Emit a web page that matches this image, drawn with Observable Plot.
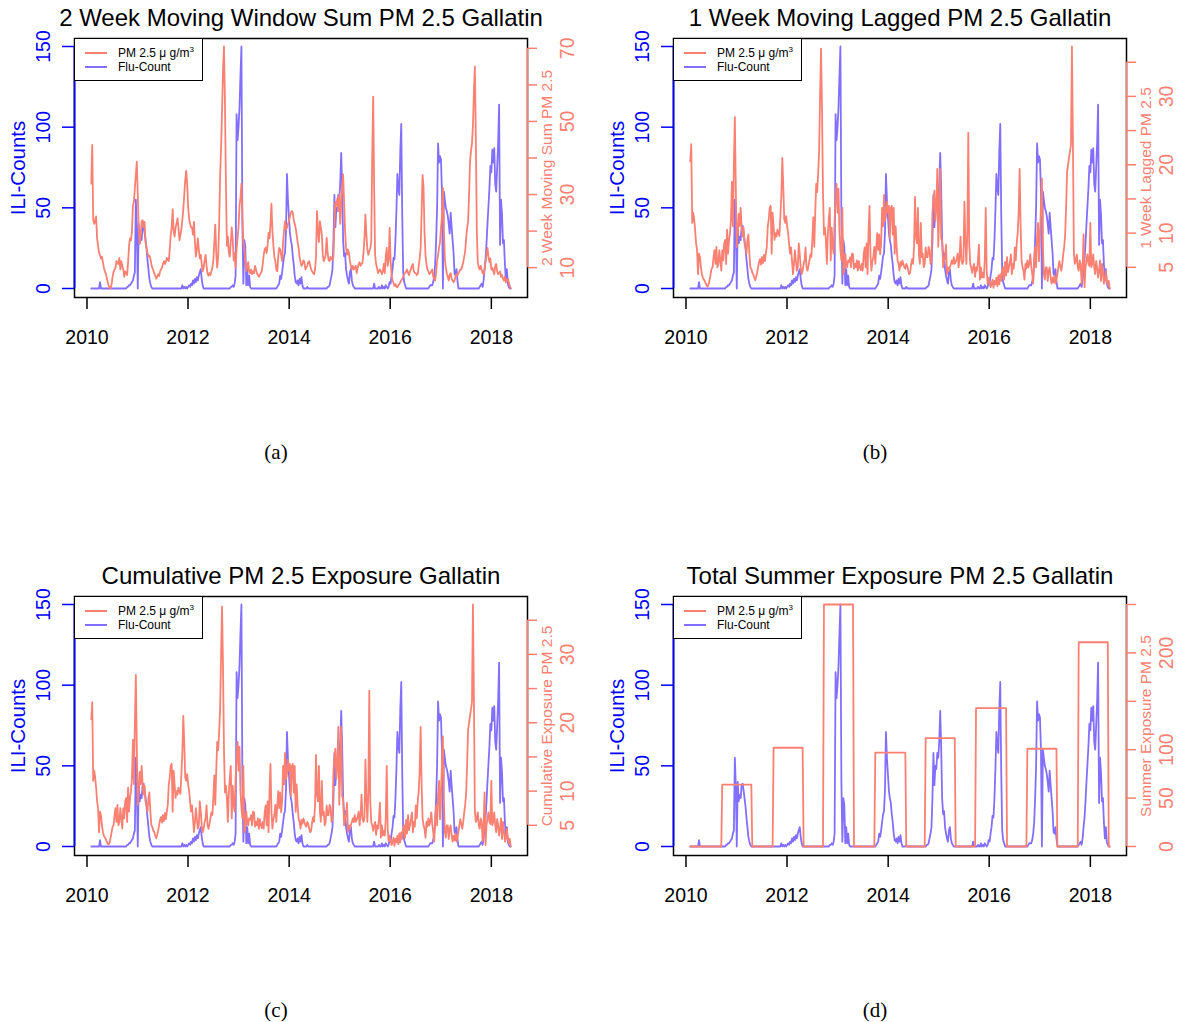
<!DOCTYPE html>
<html>
<head>
<meta charset="utf-8">
<script src="https://cdn.jsdelivr.net/npm/d3@7"></script>
<script src="https://cdn.jsdelivr.net/npm/@observablehq/plot@0.6"></script>
<style>
  html, body { margin: 0; padding: 0; background: #fff; }
  body { width: 1179px; height: 1022px; overflow: hidden; font-family: "Liberation Sans", Arial, sans-serif; }
  #chart { position: relative; width: 1179px; height: 1022px; }
  .panel { position: absolute; width: 580px; height: 470px; }
  .panel svg { position: absolute; left: 0; top: 0; background: transparent; }
  .legend { position: absolute; left: 74px; top: 38px; width: 129px; height: 43px; box-sizing: border-box;
            border: 1.5px solid #000; background: #fff; font-size: 12px; color: #000; }
  .legend .key { position: absolute; left: 10px; width: 22px; height: 0; border-top: 2px solid; }
  .legend .lab { position: absolute; left: 43px; line-height: 14px; white-space: nowrap; }
  .legend sup { font-size: 8px; vertical-align: 5px; line-height: 0; }
</style>
</head>
<body>
<div id="chart"></div>
<script>
// Weekly ILI counts, Gallatin, starting the week of 2010-02-01 (one row of 52 weeks per year, Feb to Jan)
const fluCount = [
  // 2010
  0,0,0,0,0,0,0,0,0,4, 0,0,0,0,0,0,0,0,0,0, 0,0,0,0,0,0,0,0,0,0, 0,0,0,0,0,0,0,1,1,2, 2,3,4,5,8,10,55,38,0,40, 28,32,
  // 2011
  30,38,39,35,30,25,18,12,6,3, 1,0,0,0,0,0,0,0,0,0, 0,0,0,0,0,0,0,0,0,0, 0,0,0,0,0,0,0,0,0,0, 0,0,2,0,1,0,1,0,1,2, 1,3,
  // 2012
  2,5,3,6,4,7,5,8,10,12, 6,2,0,0,0,0,0,0,0,0, 0,0,0,0,0,0,0,0,0,0, 0,0,0,0,0,0,0,0,0,0, 1,1,2,1,3,8,108,92,100,112, 132,150,
  // 2013
  40,3,30,26,2,12,2,8,1,0, 0,0,0,0,0,0,0,0,0,0, 0,0,0,0,0,0,0,0,0,0, 0,0,0,0,0,0,1,2,3,8, 6,10,15,20,22,35,71,55,45,35, 30,27,
  // 2014
  20,15,8,4,3,5,2,6,3,7, 2,0,0,0,0,1,0,0,0,0, 0,0,0,0,0,0,0,0,0,0, 0,0,0,0,0,0,1,1,2,5, 8,12,30,58,38,50,48,58,55,65, 84,62,
  // 2015
  30,20,22,12,8,5,3,10,12,5, 2,1,0,0,0,0,0,0,0,0, 0,0,0,0,0,0,0,0,0,0, 0,0,3,0,0,0,0,1,0,0, 2,0,1,0,2,1,0,1,4,3, 8,12,
  // 2016
  19,18,30,48,71,62,58,85,102,46, 10,4,2,0,0,0,0,0,0,0, 0,0,0,0,0,0,0,0,0,0, 0,0,0,0,0,0,0,1,2,2, 2,4,8,15,30,50,90,78,82,80, 60,0,
  // 2017
  60,55,50,48,45,40,34,47,38,30, 22,9,8,12,5,0,0,0,0,0, 0,0,0,0,0,0,0,0,0,0, 0,0,0,0,0,0,0,1,2,3, 1,5,12,18,28,40,51,62,76,72, 86,78,
  // 2018
  87,65,60,75,90,114,27,55,46,28, 30,15,5,12,3,1,0,0
];

// 2 week moving window sum of PM 2.5
const pmSum = [
  // 2010
  33,43.6,23,22,23,24,18,16,14,13.5, 12.5,13,11.5,10,9,8.4,7.2,6,5,4.5, 4.3,5.5,7.5,8.8,9.5,10,11.8,11.5,11,12.7,
  9.5,11.8,10.5,9.5,7.5,9,8.5,8,11.5,16, 18,17.5,20,27,28,31.8,35.4,39,30,20, 16.5,19,
  // 2011
  22.7,23,21,22.5,17,15.5,14,13,13.3,12.5, 11,10,9.3,8.5,7.8,7,7.5,8.2,7.7,9, 9.5,10,11,11.8,11,11.5,12.7,12,11.8,15,
  19,21,26,20,18.5,20.9,22,23.5,21,17.5, 19,20.5,23,26,30,34,36.5,33,26.5,23.5, 22,21,
  // 2012
  21,19,22.5,17,13,15,18,15,12.5,13.5, 11,9,10,12,13.5,10.5,8.5,7.8,8.5,8, 9,10,12,17,21.8,14,10,13,22,35,
  43,53,64,70.5,55,33,16,18.5,14,13, 17,21,18,12,14,10,15,18,21,27, 29,33,
  // 2013
  24,17,15,12,9,10.5,11.5,9,8.5,9.5, 8.2,9,8.5,10.5,9.5,8.5,8,7.5,8,8.6, 9,11,13.5,15,15.5,14,16,19.5,18,22,
  27.5,20,16,13,11.8,9.5,9,13,15.4,15, 13.5,11.8,17,20,22.7,20.5,20.9,22,22.7,24, 25,25.5,
  // 2014
  25,23,22,20.9,19,17,15.4,13,11.5,10.5, 11,12,11.5,9.5,10,10.5,11.5,11.8,10.5,9.5, 9,8.5,8.2,9.5,13,25.5,20,17,22.7,21,
  19,13.5,11.8,12.5,13.5,18.2,14,12,11.8,13, 12.5,12,13,22,28,27,29,25.5,30,22, 28,32,
  // 2015
  35.5,28,20,15.4,13.5,15,14,11.8,10.5,9.5, 10.5,9.5,10,10.5,8.5,10,11,11.5,10.5,11, 11.3,14,18,24.5,19,15,13.5,14.5,15.4,17,
  40,56.8,32,13.5,11,10,8.5,9,9.5,9, 8.2,9,11,8.5,13,15.5,10.5,12,20.9,12, 8,6.5,
  // 2016
  5.8,5,5.5,4.8,4.6,5.2,5.5,6,6.5,7, 7.5,8.2,8.5,9,9.5,8.5,8,9,9.5,10.5, 11,9,8.5,8.5,8,8.2,10.5,12.5,15.4,25,
  35.4,32,20,13.5,11,9.5,9,8.2,8.5,9, 9.5,7.5,7,6.5,8.5,12,13.5,15.4,17,20.9, 24,31.8,
  // 2017
  20,12.5,10,8.5,7.5,6.5,8,8.5,7,6.5, 6,6.5,7.5,8.2,7.8,8.5,9,9.5,9.5,10.5, 11.5,13,14.5,18,20.9,22.5,30,39,42,44,
  49,58,65,45,20,11.5,10,9.5,10.5,9.5, 8.5,8.2,9.5,11.5,13.5,15.4,13,11.5,12.5,9.5, 10,9,
  // 2018
  8.2,10.5,11,9,8.2,8.5,9,7.5,8,7, 6.5,7.5,6,6.5,7,6,5,4.3
];

// 1 week lagged PM 2.5 (also the cumulative exposure series)
const pmLagged = [
  // 2010
  20.5,23,11.5,13,12,10.5,8.5,7.5,4,7, 6.5,5,4,3.5,3.2,3,2.6,2.3,2.2,2.5, 3.2,4,4.8,5,6.5,7.5,5.5,8,5,5.5,
  7.5,6,4.5,7.5,6,8.5,9,5.5,10.5,7, 9,10,12,17.5,11,20,27,16.5,8,10, 12.8,11,
  // 2011
  13.7,11,9.5,10.8,8.5,7.9,7,9,9.8,7, 5,4.8,4.2,4,3.5,3.1,3.6,4.2,5,5.8, 6.2,5.4,6.5,5.6,6.8,5.9,7,8,11,12,
  13.7,14,7,13,11,9,10,9.5,10.5,10, 9.6,12.5,15.5,21,17,12,11.5,12.5,11,10, 8.5,7,
  // 2012
  7.9,6,4,5.5,7.5,6,4.5,5,8.5,7, 5,4,4.5,5.5,6,7.9,5,4.5,5.2,6, 6.9,6.5,9,12.3,8,13,17.2,16,18.7,22,
  30,37,28,16,9.8,10.8,9,5.5,9.8,12, 13.7,6,10.8,8,7,12,15,17.2,13,16.5, 10,7.5,
  // 2013
  6,13.7,4,4.5,7,5.5,5,6,5.8,6.5, 5,7,6.9,4.8,5.5,5,6,4.5,5.9,5, 4.6,5.5,4.5,6.9,7.9,5,8.5,4,10,14,
  6.9,4.5,5.9,6.5,8,5.5,7.9,10,7.5,9.8, 6.9,8.5,13.7,11,15.6,11.8,12.5,14.6,13,14, 9.3,13.7,
  // 2014
  14,9.8,13.7,7,11,8,6,5.5,4.5,5.8, 5.2,6,5.5,5,4.8,5.5,5.2,4.5,4,4.2, 5.5,6.2,5.5,8,15.3,9.5,8.5,13.7,7,5.5,
  11.5,6.5,7,5,5.5,7.9,6.5,6.5,8,7.5, 5.5,6,12.9,15,16.2,11.8,13.7,19.4,8,12.9, 19.4,9.3,
  // 2015
  8.8,5,6,6.5,8.3,4,5,4.5,5,5.5, 6,5.5,6.5,5.5,5.8,6.2,7,5,6.5,9.5, 6,5.5,6,14.6,9,5.5,9.8,24.7,8.5,5.5,
  5,4.2,5,5.5,3.6,5,4.5,6,8.3,3.2, 5,3.5,4.2,3.5,6,13.7,4.5,2.6,3.5,2.8, 2.1,2.6,
  // 2016
  3.2,2,3,2.5,3.5,2.2,3.8,2.5,4,3, 4.6,5,3.2,5.8,3.8,6.5,4.3,5,5.8,6.9, 4,5.5,4.8,7.9,6,8.5,10,13,19.4,11,
  6,5,4.5,3.2,5.5,4.8,6,5,5.5,6.9, 5.2,4,2.6,6,7.9,5,9.5,11.5,5.9,9.8, 14,18,
  // 2017
  8.5,4,3.2,5,5,3,4.5,5,3.5,2.6, 3.5,2.8,3.8,2.6,3.2,4,5,5.9,5.2,4.5, 5.5,6.9,8,9.8,14,19,20,21,22,23,
  37.3,23.5,7,5.5,6,6.9,5,4.5,6,5.5, 2.6,5,9.8,2.1,5,6,6.9,5.5,5.2,11.5, 5,5.5,
  // 2018
  6.9,5,4,5.9,5,3.5,4.5,6,3,5.5, 4.2,2.6,3.2,4.5,3,2.4,3,1.9
];

// Total summer PM 2.5 exposure, held over each flu season
const summerStart = ["2010-09-20","2011-09-20","2012-09-24","2013-09-26","2014-09-27","2015-09-27","2016-09-27","2017-10-04"];
const summerEnd   = ["2011-04-23","2012-04-23","2013-04-27","2014-05-10","2015-04-27","2016-05-04","2017-05-01","2018-05-08"];
const summerTotal = [64, 102, 250, 97, 112, 143, 101, 211];

// Axis ticks and labels
const xTickYears = [2010, 2012, 2014, 2016, 2018];
const fluTicks = [0, 50, 100, 150];
const sumTicks = [10, 20, 30, 40, 50, 60, 70];
const sumLabels = [10, 30, 50, 70];
const laggedTicks = [5, 10, 15, 20, 25, 30, 35];
const laggedLabels = [5, 10, 20, 30];
const summerTicks = [0, 50, 100, 150, 200, 250];
const summerLabels = [0, 50, 100, 200];

const seriesNames = ["PM 2.5 \u03bc g/m<sup>3</sup>", "Flu-Count"];

const SALMON = "#FA8072";
const FLU_BLUE = "#836FFF";
const AXIS_BLUE = "#0000FF";
const FONT = "Liberation Sans, Arial, Helvetica, sans-serif";

const firstWeek = new Date(Date.UTC(2010, 1, 1));
const weekDates = fluCount.map((_, i) => d3.utcDay.offset(firstWeek, 7 * i));
const fluRows = weekDates.map((date, i) => ({date, value: fluCount[i]}));
const sumRows = weekDates.map((date, i) => ({date, value: pmSum[i]}));
const laggedRows = weekDates.map((date, i) => ({date, value: pmLagged[i]}));
const seasonStart = summerStart.map(s => new Date(s));
const seasonEnd = summerEnd.map(s => new Date(s));
const summerRows = weekDates.map(date => {
  const k = seasonStart.findIndex((s, i) => date >= s && date <= seasonEnd[i]);
  return {date, value: k < 0 ? 0 : summerTotal[k]};
});
const xTicks = xTickYears.map(y => new Date(Date.UTC(y, 0, 1)));

// x domain padded by 4% on each side of the data range
const span = weekDates[weekDates.length - 1] - weekDates[0];
const xDomain = [new Date(+weekDates[0] - 0.04 * span), new Date(+weekDates[weekDates.length - 1] + 0.04 * span)];

const W = 580, H = 470;
const frame = {left: 74, right: 527, top: 38, bottom: 297};
const box = {
  width: W, height: H,
  marginLeft: frame.left, marginRight: W - frame.right,
  marginTop: frame.top, marginBottom: H - frame.bottom
};
const yInset = {insetTop: 8, insetBottom: 9};
const vertical = {rotate: -90, textAnchor: "middle", lineAnchor: "middle"};

const panels = [
  {left: 0, top: 0, title: "2 Week Moving Window Sum PM 2.5 Gallatin", caption: "(a)",
   rows: sumRows, ticks: sumTicks, labels: sumLabels, axisTitle: "2 Week Moving Sum PM 2.5"},
  {left: 599, top: 0, title: "1 Week Moving Lagged PM 2.5 Gallatin", caption: "(b)",
   rows: laggedRows, ticks: laggedTicks, labels: laggedLabels, axisTitle: "1 Week Lagged PM 2.5"},
  {left: 0, top: 558, title: "Cumulative PM 2.5 Exposure Gallatin", caption: "(c)",
   rows: laggedRows, ticks: laggedTicks, labels: laggedLabels, axisTitle: "Cumulative Exposure PM 2.5"},
  {left: 599, top: 558, title: "Total Summer Exposure PM 2.5 Gallatin", caption: "(d)",
   rows: summerRows, ticks: summerTicks, labels: summerLabels, axisTitle: "Summer Exposure PM 2.5"}
];

const chart = document.getElementById("chart");

for (const p of panels) {
  const div = document.createElement("div");
  div.className = "panel";
  div.style.left = p.left + "px";
  div.style.top = p.top + "px";
  chart.appendChild(div);

  // Left scale: flu counts, box, x axis, titles
  const fluPlot = Plot.plot({
    ...box,
    style: {fontFamily: FONT, background: "transparent"},
    x: {type: "utc", domain: xDomain, axis: null},
    y: {domain: [0, 150], ...yInset, axis: null},
    marks: [
      Plot.line(fluRows, {x: "date", y: "value", stroke: FLU_BLUE, strokeWidth: 1.8}),
      Plot.frame({stroke: "#000", strokeWidth: 1.5}),
      Plot.ruleX([xDomain[0]], {y1: fluTicks[0], y2: fluTicks[fluTicks.length - 1], stroke: AXIS_BLUE, strokeWidth: 1.8}),
      Plot.axisY({anchor: "left", ticks: fluTicks, tickSize: 12, tickFormat: () => "", color: AXIS_BLUE, strokeWidth: 1.5, label: null}),
      Plot.text(fluTicks, {y: d => d, text: d => String(d), frameAnchor: "left", dx: -31, ...vertical,
                           fill: AXIS_BLUE, fontSize: 19.5}),
      Plot.text(["ILI-Counts"], {text: d => d, frameAnchor: "left", dx: -56, ...vertical, fill: AXIS_BLUE, fontSize: 20.5}),
      Plot.axisX({anchor: "bottom", ticks: xTicks, tickSize: 12, tickFormat: () => "", color: "#000", strokeWidth: 1.5, label: null}),
      Plot.text(xTicks, {x: d => d, text: d => String(d.getUTCFullYear()), frameAnchor: "bottom", dy: 40,
                         lineAnchor: "middle", fill: "#000", fontSize: 19.5}),
      Plot.text([p.title], {text: d => d, frameAnchor: "top", dy: -20, lineAnchor: "middle", fill: "#000", fontSize: 24}),
      Plot.text([p.caption], {text: d => d, frameAnchor: "bottom", dx: -25, dy: 155, lineAnchor: "middle", fill: "#000",
                              fontSize: 21, fontFamily: "Liberation Serif, DejaVu Serif, serif"})
    ]
  });
  div.appendChild(fluPlot);

  // Right scale: PM 2.5 series spanning its own range
  const pmPlot = Plot.plot({
    ...box,
    style: {fontFamily: FONT, background: "transparent"},
    x: {type: "utc", domain: xDomain, axis: null},
    y: {domain: d3.extent(p.rows, d => d.value), ...yInset, axis: null},
    marks: [
      Plot.line(p.rows, {x: "date", y: "value", stroke: SALMON, strokeWidth: 1.8}),
      Plot.ruleX([xDomain[1]], {y1: p.ticks[0], y2: p.ticks[p.ticks.length - 1], stroke: SALMON, strokeWidth: 1.5}),
      Plot.axisY({anchor: "right", ticks: p.ticks, tickSize: 9, tickFormat: () => "", color: SALMON, strokeWidth: 1.5, label: null}),
      Plot.text(p.labels, {y: d => d, text: d => String(d), frameAnchor: "right", dx: 40, ...vertical,
                           fill: SALMON, fontSize: 19.5}),
      Plot.text([p.axisTitle], {text: d => d, frameAnchor: "right", dx: 20, ...vertical, fill: SALMON, fontSize: 15.5})
    ]
  });
  div.appendChild(pmPlot);

  // Legend box in the top-left corner of the frame
  const legend = document.createElement("div");
  legend.className = "legend";
  [SALMON, FLU_BLUE].forEach((color, i) => {
    const key = document.createElement("div");
    key.className = "key";
    key.style.top = (13 + 14 * i) + "px";
    key.style.borderTopColor = color;
    legend.appendChild(key);
    const lab = document.createElement("div");
    lab.className = "lab";
    lab.style.top = (7 + 14 * i) + "px";
    lab.innerHTML = seriesNames[i];
    legend.appendChild(lab);
  });
  div.appendChild(legend);
}
</script>
</body>
</html>
